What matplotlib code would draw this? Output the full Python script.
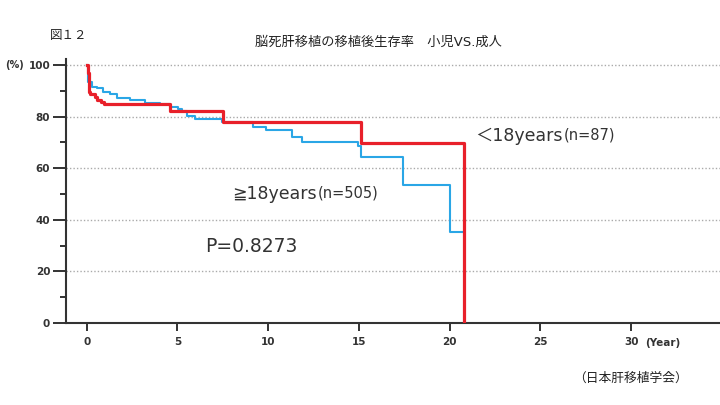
import matplotlib
matplotlib.use("Agg")
import matplotlib.pyplot as plt
from matplotlib.ticker import MultipleLocator

plt.rcParams['font.family'] = ['DejaVu Sans', 'Noto Sans CJK JP']

# survival curves (Kaplan-Meier steps: start time of each step, survival %)
red_time = [0, 0.05, 0.1, 0.18, 0.46, 0.59, 0.77, 0.95, 4.59, 7.53, 15.1, 20.8]
red_surv = [100, 96.8, 89.4, 88.6, 87.5, 86.4, 85.5, 84.7, 82.2, 78.0, 69.6, 0]

blue_time = [0, 0.08, 0.27, 0.55, 0.92, 1.28, 1.65, 2.39, 3.21, 4.04, 4.59, 5.05,
             5.23, 5.51, 5.97, 7.44, 9.15, 9.9, 11.3, 11.85, 14.97, 15.1, 17.4,
             20.0, 20.75]
blue_surv = [100, 93.2, 91.6, 91.0, 89.7, 88.6, 87.3, 86.4, 85.4, 84.7, 83.8, 82.8,
             82.0, 80.2, 79.0, 78.0, 76.1, 74.8, 72.2, 70.3, 68.5, 64.2, 53.5,
             35.1, 35.1]

x_ticks = [0, 5, 10, 15, 20, 25, 30]
y_ticks = [0, 20, 40, 60, 80, 100]

title = '脳死肝移植の移植後生存率　小児VS.成人'
fig_label = '図１２'
source = '（日本肝移植学会）'

W, H = 720, 405
fig = plt.figure(figsize=(7.2, 4.05), dpi=100)
ax = fig.add_axes([66 / W, 1 - 323 / H, 1 - 66 / W, 264.5 / H])

txt = '#333333'

ax.step(blue_time, blue_surv, where='post', color='#2aa6e6', lw=1.5, zorder=3)
ax.step(red_time, red_surv, where='post', color='#e8202a', lw=2.3, zorder=4)

ax.set_xlim(-1.14, 34.89)
ax.set_ylim(0, 102.5)

ax.set_xticks(x_ticks)
ax.set_xticklabels([str(v) for v in x_ticks])
ax.set_yticks(y_ticks)
ax.set_yticklabels([str(v) for v in y_ticks])
ax.yaxis.set_minor_locator(MultipleLocator(10))

ax.tick_params(axis='y', which='major', direction='out', length=9.4, width=1.4,
               pad=2, labelsize=7.5, colors=txt)
ax.tick_params(axis='y', which='minor', direction='out', length=4.3, width=1.4,
               colors=txt)
ax.tick_params(axis='x', direction='out', length=6, width=1.4, pad=4,
               labelsize=7.5, colors=txt)
for lab in ax.get_xticklabels() + ax.get_yticklabels():
    lab.set_fontweight('bold')

for s in ['top', 'right']:
    ax.spines[s].set_visible(False)
for s in ['left', 'bottom']:
    ax.spines[s].set_color(txt)
    ax.spines[s].set_linewidth(1.5)

ax.yaxis.grid(True, which='major', linestyle=(0, (1, 1.5)), color='#aaaaaa', lw=1)
ax.set_axisbelow(True)

# annotations
t1 = ax.text(21.4, 72.5, '＜18years', fontsize=12.5, color=txt, va='center', ha='left')
ax.annotate('(n=87)', xy=(1, 0), xycoords=t1, xytext=(1, 1.5), textcoords='offset points',
            fontsize=10.5, color=txt, va='bottom', ha='left')
t2 = ax.text(8.0, 50.0, '≧18years', fontsize=12.5, color=txt, va='center', ha='left')
ax.annotate('(n=505)', xy=(1, 0), xycoords=t2, xytext=(1, 1.5), textcoords='offset points',
            fontsize=10.5, color=txt, va='bottom', ha='left')
ax.text(6.5, 29.8, 'P=0.8273', fontsize=13.5, color=txt, va='center', ha='left')

fig.text(15 / W, 1 - 65 / H, '(%)', fontsize=7, color=txt, fontweight='bold',
         ha='center', va='center')
fig.text(645 / W, 1 - 343 / H, '(Year)', fontsize=7.5, color=txt, fontweight='bold',
         ha='left', va='center')
fig.text(50 / W, 1 - 35 / H, fig_label, fontsize=9, color='#222222', ha='left', va='center')
fig.text(378 / W, 1 - 42 / H, title, fontsize=9.5, color='#222222', ha='center', va='center')
fig.text(573 / W, 1 - 378 / H, source, fontsize=9.2, color='#222222', ha='left', va='center')

fig.savefig('out.png', dpi=100)
